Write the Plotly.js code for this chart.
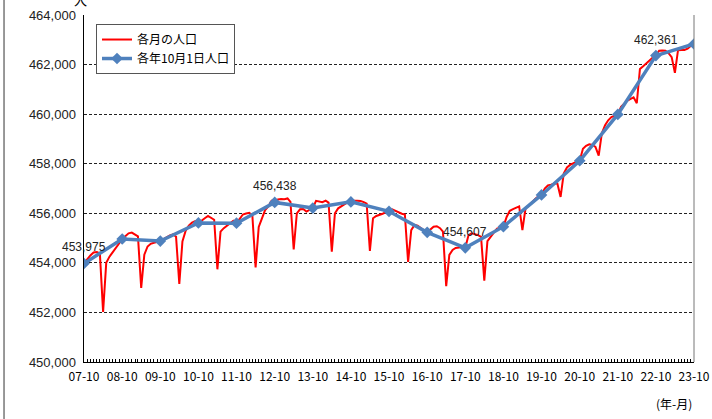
<!DOCTYPE html>
<html>
<head>
<meta charset="utf-8">
<script src="https://cdn.plot.ly/plotly-3.0.1.min.js"></script>
<style>
html,body{margin:0;padding:0;background:#fff;}
#chart{width:712px;height:419px;}
</style>
</head>
<body>
<div id="chart"></div>
<script>
// Monthly population, 2007-10 .. 2023-10 (one row per Oct..Sep year)
const START_YEAR = 2007;
const START_MONTH = 10;
const monthlyPop = [
  453975, 454150, 454300, 454420, 454440, 454380, 452020, 454000, 454250, 454420, 454580, 454780,
  454962, 455100, 455190, 455220, 455150, 455070, 452990, 454330, 454660, 454770, 454810, 454850,
  454880, 454960, 455050, 455110, 455150, 455050, 453150, 454860, 455300, 455500, 455620, 455680,
  455610, 455720, 455800, 455890, 455820, 455740, 453740, 455260, 455400, 455490, 455580, 455700,
  455600, 455800, 455950, 455990, 456020, 455900, 453820, 455450, 455800, 456130, 456280, 456500,
  456438, 456560, 456580, 456570, 456600, 456460, 454540, 456000, 456160, 456170, 456070, 456130,
  456210, 456500, 456480, 456450, 456510, 456430, 454450, 456000, 456200, 456290, 456380, 456450,
  456460, 456510, 456510, 456500, 456450, 456390, 454480, 455800, 455890, 455930, 455980, 456050,
  456080, 456160, 456100, 456030, 455980, 455950, 454040, 455320, 455530, 455500, 455390, 455300,
  455230, 455350, 455460, 455480, 455400, 455260, 453060, 454320, 454520, 454600, 454630, 454640,
  454607, 455120, 455190, 455170, 455120, 455050, 453280, 454880, 455080, 455220, 455380, 455430,
  455460, 455850, 456100, 456170, 456240, 456280, 455320, 456200, 456300, 456450, 456580, 456680,
  456740, 457000, 457120, 457150, 457200, 457200, 456660, 457600, 457850, 457950, 458030, 458080,
  458120, 458600, 458720, 458780, 458760, 458680, 458330, 459230, 459550, 459750, 459880, 459940,
  459990, 460300, 460440, 460550, 460620, 460680, 460440, 461820, 461930, 462050, 462180, 462280,
  462361, 462560, 462570, 462560, 462450, 462300, 461670, 462580, 462590, 462590, 462640, 462760,
  462830
];
// October 1st population of each year 2007..2023
const octYears = [2007,2008,2009,2010,2011,2012,2013,2014,2015,2016,2017,2018,2019,2020,2021,2022,2023];
const octPop = [453975, 454962, 454880, 455610, 455600, 456438, 456210, 456460, 456080, 455230, 454607, 455460, 456740, 458120, 459990, 462361, 462830];
// Years whose Oct value is labelled
const labelYears = [2007, 2012, 2017, 2022];

const seriesNames = ['各月の人口', '各年10月1日人口'];
const yUnit = '人';
const xUnit = '(年-月)';

function pad(n){return (n<10?'0':'')+n;}
const monthlyDates = monthlyPop.map((v,i)=>{
  const t = START_MONTH - 1 + i;
  const y = START_YEAR + Math.floor(t/12);
  const m = t % 12 + 1;
  return y + '-' + pad(m) + '-01';
});
const octDates = octYears.map(y => y + '-10-01');

const jpFont = '"Noto Sans CJK JP", "Noto Sans", sans-serif';
const numFont = '"Liberation Sans", Arial, sans-serif';

const traces = [
  {
    x: monthlyDates, y: monthlyPop, type: 'scatter', mode: 'lines',
    name: seriesNames[0],
    line: {color: '#FF0000', width: 2}
  },
  {
    x: octDates, y: octPop, type: 'scatter', mode: 'lines+markers',
    name: seriesNames[1],
    line: {color: '#4F81BD', width: 3.5},
    marker: {symbol: 'diamond', size: 9, color: '#4F81BD'}
  }
];

const annotations = labelYears.map(yr => {
  const i = octYears.indexOf(yr);
  return {
    x: octDates[i], y: octPop[i], xref: 'x', yref: 'y',
    text: octPop[i].toLocaleString('en-US'),
    showarrow: false, yshift: 16,
    font: {family: numFont, size: 12, color: '#222'}
  };
});
annotations.push({
  xref: 'paper', yref: 'paper', x: -0.006, y: 1.046, xanchor: 'center', yanchor: 'middle',
  text: yUnit, showarrow: false, font: {family: jpFont, size: 13, color: '#000'}
});
annotations.push({
  xref: 'paper', yref: 'paper', x: 1.0, y: -0.09, xanchor: 'right', yanchor: 'top',
  text: xUnit, showarrow: false, font: {family: jpFont, size: 12, color: '#000'}
});

const layout = {
  width: 712, height: 419,
  margin: {l: 84, r: 18, t: 15, b: 57},
  paper_bgcolor: '#fff', plot_bgcolor: '#fff',
  showlegend: true,
  legend: {
    x: 0.0197, y: 0.974, xanchor: 'left', yanchor: 'top',
    bgcolor: '#fff', bordercolor: '#555', borderwidth: 1,
    font: {family: jpFont, size: 12, color: '#000'},
    tracegroupgap: 6
  },
  xaxis: {
    type: 'date',
    range: [monthlyDates[0], monthlyDates[monthlyDates.length-1]],
    tick0: octDates[0], dtick: 'M12', tickformat: '%y-%m',
    ticks: 'inside', ticklen: 3, tickcolor: '#000',
    minor: {dtick: 'M1', ticks: 'inside', ticklen: 3, tickcolor: '#000', showgrid: false},
    showgrid: false, zeroline: false,
    showline: true, linecolor: '#000', linewidth: 1,
    tickfont: {family: jpFont, size: 12, color: '#000'},
    ticklabelstandoff: 4
  },
  yaxis: {
    range: [450000, 464000], dtick: 2000, tick0: 450000,
    tickformat: ',d',
    showgrid: true, gridcolor: '#222', gridwidth: 1, griddash: '3px,2px',
    zeroline: false, showline: true, linecolor: '#000', linewidth: 1.5,
    ticks: '', tickfont: {family: numFont, size: 13, color: '#222'},
    ticklabelstandoff: 4
  },
  shapes: [
    {type: 'line', xref: 'paper', yref: 'paper', x0: 1, x1: 1, y0: 0, y1: 1,
     line: {color: '#777', width: 1}},
    {type: 'line', xref: 'paper', yref: 'paper', x0: -0.1311, x1: -0.1311, y0: -0.2, y1: 1.1,
     line: {color: '#333', width: 1}}
  ],
  annotations: annotations
};

Plotly.newPlot('chart', traces, layout, {displayModeBar: false, staticPlot: true});
</script>
</body>
</html>
